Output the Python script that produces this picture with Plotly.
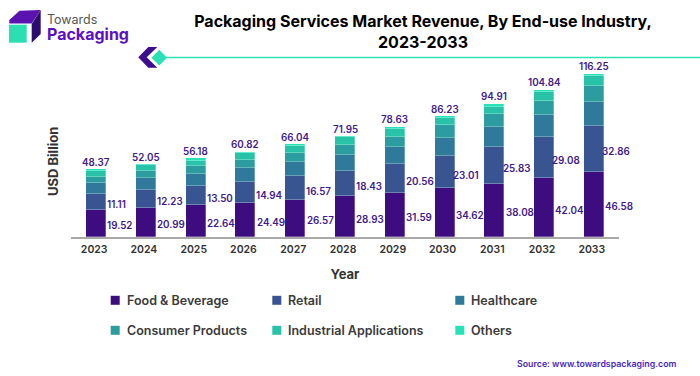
import plotly.graph_objects as go

W, H = 700, 376
L, R, T, B = 71, 81, 60, 139
years = [2023, 2024, 2025, 2026, 2027, 2028, 2029, 2030, 2031, 2032, 2033]
totals = [48.37, 52.05, 56.18, 60.82, 66.04, 71.95, 78.63, 86.23, 94.91, 104.84, 116.25]
food = [19.52, 20.99, 22.64, 24.49, 26.57, 28.93, 31.59, 34.62, 38.08, 42.04, 46.58]
retail = [11.11, 12.23, 13.50, 14.94, 16.57, 18.43, 20.56, 23.01, 25.83, 29.08, 32.86]
healthcare = [8.0, 8.56, 9.0, 9.8, 10.5, 11.4, 12.1, 13.3, 14.3, 15.7, 17.06]
consumer = [4.3, 5.0, 5.7, 6.0, 6.4, 7.1, 7.4, 8.6, 9.3, 10.5, 11.2]
industrial = [4.0, 4.3, 3.3, 4.5, 5.0, 5.2, 5.2, 5.2, 5.5, 6.0, 7.05]
others = [1.44, 0.97, 2.04, 1.09, 1.0, 0.89, 1.78, 1.5, 1.9, 1.5, 1.5]

series_names = ["Food & Beverage", "Retail", "Healthcare", "Consumer Products",
                "Industrial Applications", "Others"]
series_values = [food, retail, healthcare, consumer, industrial, others]
series_colors = ["#3d0d7f", "#385592", "#2f7a9a", "#2b9ca0", "#28c2a8", "#26e2b6"]
retail_label_shift = [0, 0, 0, 0, 0, 0, 0, -2.4, -2, -2.6, -2.4]

LABEL = "#40198c"
DARK = "#333333"
FONT = "Inter"


def px(x):
    return (x - L) / (W - L - R)


def py(y):
    return (H - B - y) / (H - T - B)


fig = go.Figure()
for name, vals, col in zip(series_names, series_values, series_colors):
    fig.add_trace(go.Bar(
        x=years, y=vals, name=name, width=0.402, showlegend=False,
        marker=dict(color=col, line=dict(color="rgba(255,255,255,0.35)", width=0.8)),
    ))

ann = []
half_bar = 10
for yr, f, r, t, rs in zip(years, food, retail, totals, retail_label_shift):
    common = dict(x=yr, xref="x", yref="y", showarrow=False, borderpad=0,
                  font=dict(family=FONT, size=9.8, color=LABEL, weight=600))
    ann.append(dict(common, y=f / 2, text=f"{f:.2f}", xanchor="left", yanchor="middle",
                    xshift=half_bar + 0.3, yshift=-2.5))
    ann.append(dict(common, y=f + r / 2, text=f"{r:.2f}", xanchor="left", yanchor="middle",
                    xshift=half_bar + rs, yshift=-3))
    ann.append(dict(common, y=t, text=f"{t:.2f}", xanchor="center", yanchor="middle",
                    yshift=7))

ann.append(dict(x=px(53), y=py(162), xref="paper", yref="paper", text="USD Billion",
                textangle=-90, showarrow=False, xanchor="center", yanchor="middle",
                font=dict(family=FONT, size=13, color=DARK, weight=700)))

shapes = []


def poly(points, color):
    d = "M" + "L".join(f"{px(a):.5f},{py(b):.5f}" for a, b in points) + "Z"
    shapes.append(dict(type="path", path=d, xref="paper", yref="paper",
                       fillcolor=color, line=dict(width=0)))


# legend: three columns, two rows
legend_x = [110.7, 272.3, 455.3]
legend_y = [300.3, 330.3]
for i, (name, col) in enumerate(zip(series_names, series_colors)):
    lx, ly = legend_x[i % 3], legend_y[i // 3]
    poly([(lx, ly - 4.5), (lx + 9, ly - 4.5), (lx + 9, ly + 4.5), (lx, ly + 4.5)], col)
    ann.append(dict(x=px(lx + 15), y=py(ly), xref="paper", yref="paper", text=name,
                    xanchor="left", yanchor="middle", showarrow=False, borderpad=0,
                    font=dict(family=FONT, size=12.5, color="#3a3a3a", weight=600)))

# logo
poly([(9.3, 20), (19.5, 10.7), (40.7, 10), (31.7, 23.5), (9.3, 23.5)], "#5a12b0")
poly([(31.7, 24), (40.7, 10), (40.7, 34), (31.7, 42.7)], "#2c0a6e")
poly([(9, 24.7), (26.7, 24.7), (26.7, 42.7), (9, 42.7)], "#2bdfb3")
ann.append(dict(x=px(45.5), y=py(28), xref="paper", yref="paper",
                text='Towards<br><span style="font-size:16px;color:#5c10c4;font-weight:bold">Packaging</span>',
                xanchor="left", yanchor="middle", align="left", showarrow=False, borderpad=0,
                font=dict(family=FONT, size=12.5, color="#555555", weight=400)))

# decorative rule
poly([(138.3, 57.3), (148.3, 47), (157.3, 47), (146.7, 57.3), (157.3, 67.7), (148.3, 67.7)], "#3d0d8f")
poly([(151.5, 57.7), (159.3, 49.8), (167, 57.7), (159.3, 65.5)], "#2be0b4")
shapes.append(dict(type="line", xref="paper", yref="paper", x0=px(165), x1=px(W),
                   y0=py(57.5), y1=py(57.5), line=dict(color="#2de2b4", width=1.5)))

# source
ann.append(dict(x=px(515.5), y=py(363), xref="paper", yref="paper",
                text="Source: www.towardspackaging.com", xanchor="left", yanchor="middle",
                showarrow=False, borderpad=0,
                font=dict(family=FONT, size=8.8, color="#4a1fc0", weight=600)))

fig.update_layout(
    width=W, height=H, autosize=False, barmode="stack", bargap=0,
    paper_bgcolor="white", plot_bgcolor="white", showlegend=False,
    margin=dict(l=L, r=R, t=T, b=B, pad=0),
    title=dict(text="Packaging Services Market Revenue, By End-use Industry,<br>2023-2033",
               x=423 / W, xanchor="center", xref="container", y=1 - 27 / H, yanchor="middle",
               yref="container",
               font=dict(family=FONT, size=16, color="#000000", weight=700)),
    xaxis=dict(range=[2022.494, 2033.506], tickmode="array", tickvals=years,
               ticktext=[str(y) for y in years], showgrid=False, zeroline=False,
               showline=True, linecolor="#a9a9a9", linewidth=1.5, ticks="",
               ticklabelshift=-2, ticklabelstandoff=2,
               tickfont=dict(family=FONT, size=10.5, color=DARK, weight=600),
               title=dict(text="Year", standoff=15,
                          font=dict(family=FONT, size=13, color=DARK, weight=700))),
    yaxis=dict(range=[0, 126.2], visible=False, fixedrange=True),
    annotations=ann, shapes=shapes,
)
fig.write_html("out.html", config={"displayModeBar": False},
               post_script="document.body.style.margin='0';document.documentElement.style.overflow='hidden';")
